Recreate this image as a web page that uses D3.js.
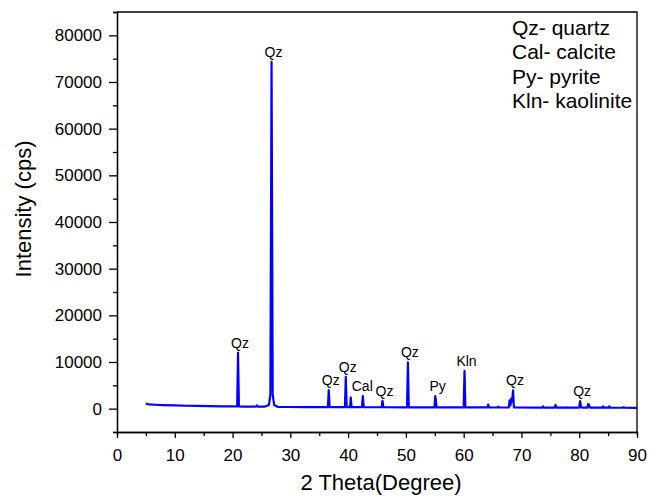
<!DOCTYPE html>
<html>
<head>
<meta charset="utf-8">
<script src="https://cdn.jsdelivr.net/npm/d3@7"></script>
<style>
    body { margin: 0; background: #fff; }
    svg text { font-family: "Liberation Sans", Arial, sans-serif; fill: #000; }
    .axis path, .axis line { stroke: #000; stroke-width: 1.3; }
    .frame { stroke: #000; stroke-width: 1.3; fill: none; }
    .pattern { fill: none; stroke: #0000ff; stroke-width: 2.2; stroke-linejoin: round; }
</style>
</head>
<body>
<div id="chart"></div>
<script>
// XRD pattern
const twoTheta = [
    5.0, 5.2, 5.6, 6.5, 8, 10, 12, 14, 16, 18, 20, 20.8,
    20.95, 21.1, 22, 24, 24.2, 24.35, 25.5, 26.3, 26.55,
    26.75, 26.95, 27.2, 27.8, 30, 33, 36.5,
    36.65, 36.8, 39.45, 39.6, 39.75, 40.35, 40.45, 40.6,
    42.4, 42.55, 42.7, 45.8, 45.95, 46.1, 50.2, 50.35, 50.5,
    54.95, 55.08, 55.18, 55.3, 60.0, 60.15, 60.3,
    64.1, 64.25, 64.4, 65.9, 66.0, 66.1,
    67.8, 67.95, 68.1, 68.25, 68.4, 68.55, 68.7,
    73.6, 73.75, 73.9, 75.75, 75.9, 76.05, 77.7, 77.85, 78.0,
    80.0, 80.15, 80.3, 80.45, 81.4, 81.55, 81.7, 81.85,
    84.0, 84.15, 84.3, 85.05, 85.2, 85.35, 87.55, 87.7, 87.85, 90
];
const intensity = [
    1150, 1000, 900, 840, 760, 690, 630, 580, 540, 500, 470, 460,
    12000, 460, 440, 420, 700, 420, 430, 800, 3000,
    74300, 3000, 800, 400, 360, 340, 330,
    4000, 330, 320, 6800, 320, 320, 2400, 320,
    310, 2700, 310, 300, 1700, 300, 290, 9900, 290,
    280, 2700, 2000, 280, 270, 8100, 270,
    260, 900, 260, 250, 450, 250,
    250, 1800, 700, 2200, 1500, 3900, 250,
    240, 500, 240, 230, 800, 230, 220, 300, 220,
    220, 1600, 500, 220, 220, 1000, 800, 220,
    210, 500, 210, 210, 500, 210, 200, 350, 200, 190
];

// phase labels over the peaks
const peakNames = ["Qz", "Qz", "Qz", "Qz", "Cal", "Qz", "Qz", "Py", "Kln", "Qz", "Qz"];
const peakTheta = [20.95, 26.75, 36.65, 39.6, 42.1, 45.95, 50.35, 55.15, 60.15, 68.55, 80.15];
const peakHeight = [12000, 74300, 4000, 6800, 2700, 1700, 9900, 2700, 8100, 3900, 1600];

const legendLines = ["Qz- quartz", "Cal- calcite", "Py- pyrite", "Kln- kaolinite"];

const xMajorTicks = [0, 10, 20, 30, 40, 50, 60, 70, 80, 90];
const xMinorTicks = [5, 15, 25, 35, 45, 55, 65, 75, 85];
const yMajorTicks = [0, 10000, 20000, 30000, 40000, 50000, 60000, 70000, 80000];
const yMinorTicks = [-5000, 5000, 15000, 25000, 35000, 45000, 55000, 65000, 75000, 85000];

const config = {
    width: 649,
    height: 497,
    left: 117,
    top: 12,
    plotWidth: 520,
    plotHeight: 420,
};

const svg = d3.select('#chart')
    .append('svg')
    .attr('width', config.width)
    .attr('height', config.height)
;

const g = svg.append('g')
    .attr('transform', `translate(${config.left},${config.top})`)
;

const x = d3.scaleLinear()
    .domain([0, 90])
    .range([0, config.plotWidth])
;

const y = d3.scaleLinear()
    .domain([-5000, 85000])
    .range([config.plotHeight, 0])
;

// minor ticks first, then the labelled axes on top
g.append('g')
    .attr('class', 'axis')
    .attr('transform', `translate(0,${config.plotHeight})`)
    .call(d3.axisBottom(x).tickValues(xMinorTicks).tickSize(4).tickFormat(''))
;
g.append('g')
    .attr('class', 'axis')
    .call(d3.axisLeft(y).tickValues(yMinorTicks).tickSize(4).tickFormat(''))
;

const xAxis = g.append('g')
    .attr('class', 'axis')
    .attr('transform', `translate(0,${config.plotHeight})`)
    .call(d3.axisBottom(x).tickValues(xMajorTicks).tickSize(6).tickPadding(11).tickSizeOuter(0))
;
xAxis.selectAll('text').style('font-size', '17px');

const yAxis = g.append('g')
    .attr('class', 'axis')
    .call(d3.axisLeft(y).tickValues(yMajorTicks).tickSize(8).tickPadding(7)
        .tickSizeOuter(0).tickFormat(d3.format('d')))
;
yAxis.selectAll('text').style('font-size', '17px');

// top and right border
g.append('path')
    .attr('class', 'frame')
    .attr('d', `M0,0H${config.plotWidth}V${config.plotHeight}`)
;

// the pattern
const line = d3.line()
    .x(d => x(d[0]))
    .y(d => y(d[1]))
;
g.append('path')
    .attr('class', 'pattern')
    .attr('d', line(d3.zip(twoTheta, intensity)))
;

// peak labels
g.selectAll('.peak-label')
    .data(d3.range(peakNames.length))
    .enter()
    .append('text')
    .attr('class', 'peak-label')
    .attr('x', i => x(peakTheta[i]) + 2)
    .attr('y', i => y(peakHeight[i]) - 5)
    .attr('text-anchor', 'middle')
    .style('font-size', '14px')
    .text(i => peakNames[i])
;

// legend text
g.selectAll('.legend')
    .data(legendLines)
    .enter()
    .append('text')
    .attr('class', 'legend')
    .attr('x', 395)
    .attr('y', (d, i) => 23 + i * 24.4)
    .style('font-size', '21px')
    .text(d => d)
;

// axis titles
svg.append('text')
    .attr('x', config.left + config.plotWidth / 2 + 4)
    .attr('y', 490)
    .attr('text-anchor', 'middle')
    .style('font-size', '22px')
    .text('2 Theta(Degree)')
;

svg.append('text')
    .attr('transform', `translate(31,${config.top + 197}) rotate(-90)`)
    .attr('text-anchor', 'middle')
    .style('font-size', '22px')
    .text('Intensity (cps)')
;
</script>
</body>
</html>
